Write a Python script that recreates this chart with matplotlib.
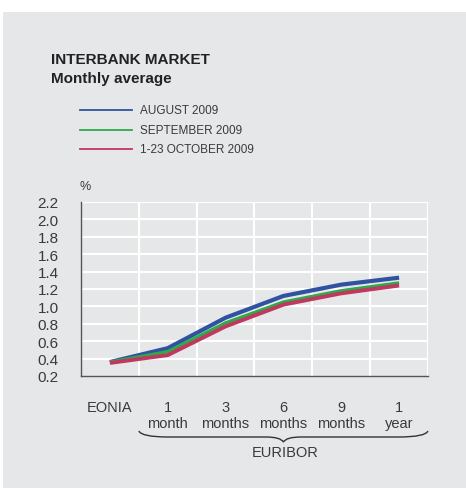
import matplotlib
matplotlib.use("Agg")
import matplotlib.pyplot as plt
from matplotlib import transforms
from matplotlib.path import Path
from matplotlib.patches import PathPatch, Rectangle
from matplotlib.lines import Line2D

plt.rcParams['font.family'] = ['Liberation Sans', 'DejaVu Sans']

# data (%)
terms = ["EONIA", "1\nmonth", "3\nmonths", "6\nmonths", "9\nmonths", "1\nyear"]
august = [0.36, 0.52, 0.87, 1.12, 1.25, 1.33]
september = [0.36, 0.48, 0.81, 1.05, 1.18, 1.27]
october = [0.35, 0.44, 0.77, 1.02, 1.15, 1.24]
series_labels = ["AUGUST 2009", "SEPTEMBER 2009", "1-23 OCTOBER 2009"]
y_ticks = [0.2, 0.4, 0.6, 0.8, 1.0, 1.2, 1.4, 1.6, 1.8, 2.0, 2.2]

colors = ["#2f53a0", "#2eaa4a", "#c0375f"]
widths = [3.0, 2.4, 2.8]
bg = "#e6e7e8"
text_c = "#3a3a3a"

fig = plt.figure(figsize=(4.66, 4.89), dpi=100)
fig.patch.set_facecolor("white")
fig.patches.append(Rectangle((3 / 466, 0), 1, 1 - 13 / 489, transform=fig.transFigure,
                             facecolor=bg, edgecolor="none", zorder=-10))

ax = fig.add_axes([81 / 466, 1 - 377 / 489, (428 - 81) / 466, (377 - 203) / 489])
ax.set_facecolor(bg)

x = [i + 0.5 for i in range(len(terms))]
for vals, c, lw in zip([august, september, october], colors, widths):
    ax.plot(x, vals, color=c, lw=lw, solid_capstyle="butt", zorder=3)

ax.set_xlim(0, 6)
ax.set_ylim(0.2, 2.2)
ax.set_yticks(y_ticks)
ax.set_yticklabels([f"{v:.1f}" for v in y_ticks])
ax.set_xticks(x)
ax.set_xticklabels(terms)
ax.tick_params(axis="y", length=0, pad=16, labelsize=11, labelcolor=text_c)
ax.tick_params(axis="x", length=0, pad=17, labelsize=10.5, labelcolor=text_c)
for lab in ax.get_xticklabels():
    lab.set_linespacing(1.2)
    lab.set_verticalalignment("top")

# white grid
for v in range(1, 7):
    ax.axvline(v, color="white", lw=1.5, zorder=1)
for v in y_ticks[1:]:
    ax.axhline(v, color="white", lw=1.5, zorder=1)

for s in ["top", "right"]:
    ax.spines[s].set_visible(False)
for s in ["left", "bottom"]:
    ax.spines[s].set_color("#555555")
    ax.spines[s].set_linewidth(1.0)
    ax.spines[s].set_zorder(4)

# title
fig.text(51 / 466, 1 - 59.5 / 489, "INTERBANK MARKET", fontsize=11, fontweight="bold",
         color="#222222", va="center")
fig.text(51 / 466, 1 - 79 / 489, "Monthly average", fontsize=11, fontweight="bold",
         color="#222222", va="center")

# legend
for i, (lab, c) in enumerate(zip(series_labels, colors)):
    yy = 1 - (111 + 19.5 * i) / 489
    fig.add_artist(Line2D([80 / 466, 132 / 466], [yy, yy], color=c, lw=1.3,
                          transform=fig.transFigure))
    fig.text(140 / 466, yy, lab, fontsize=8.5, color=text_c, va="center")

fig.text(79 / 466, 1 - 187 / 489, "%", fontsize=9, color=text_c, va="center")

# brace under the EURIBOR terms
tr = transforms.blended_transform_factory(ax.transData, fig.transFigure)
x0, x1 = 1.0, 6.0
xm = (x0 + x1) / 2
ye = 1 - 432 / 489
yf = 1 - 438 / 489
yt = 1 - 443 / 489
verts = [(x0, ye), (x0 + 0.05, yf), (x0 + 0.5, yf),
         (xm - 0.3, yf), (xm - 0.05, yf), (xm, yt),
         (xm + 0.05, yf), (xm + 0.3, yf),
         (x1 - 0.5, yf), (x1 - 0.05, yf), (x1, ye)]
codes = [Path.MOVETO, Path.CURVE3, Path.CURVE3,
         Path.LINETO, Path.CURVE3, Path.CURVE3,
         Path.CURVE3, Path.CURVE3,
         Path.LINETO, Path.CURVE3, Path.CURVE3]
brace = PathPatch(Path(verts, codes), transform=tr, facecolor="none",
                  edgecolor="#333333", lw=1.0, clip_on=False)
fig.patches.append(brace)
fig.text(285 / 466, 1 - 453 / 489, "EURIBOR", fontsize=10.5, color=text_c,
         ha="center", va="center")

fig.savefig("out.png", dpi=100, facecolor=fig.get_facecolor())
